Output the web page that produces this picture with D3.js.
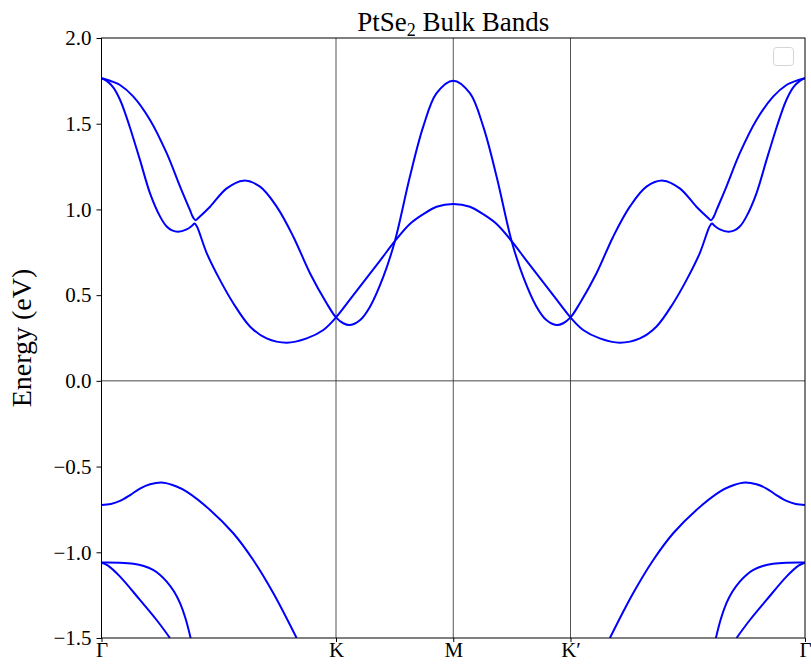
<!DOCTYPE html>
<html>
<head>
<meta charset="utf-8">
<script src="https://cdn.jsdelivr.net/npm/d3@7"></script>
<style>
  body { margin: 0; background: #fff; }
  svg { display: block; }
  text { font-family: "Liberation Serif", "DejaVu Serif", serif; fill: #000; }
</style>
</head>
<body>
<div id="chart"></div>
<script>
// ---- data (k along path G-K-M-K'-G, energy in eV) ----
const kTicks = [0, 1, 1.5, 2, 3];
const kLabels = ["Γ", "K", "M", "K′", "Γ"];
const eTicks = [-1.5, -1.0, -0.5, 0.0, 0.5, 1.0, 1.5, 2.0];

// conduction band 1 (lower branch from Γ, min near K, dome at M)
const c1K = [0, 0.022, 0.050, 0.079, 0.100, 0.122, 0.164, 0.207, 0.250, 0.278, 0.301, 0.327, 0.363, 0.386, 0.397, 0.407, 0.449, 0.505, 0.562, 0.634, 0.704, 0.790, 0.875, 0.946, 1.000, 1.060, 1.116, 1.187, 1.251, 1.315, 1.372, 1.429, 1.500,
  1.571, 1.628, 1.685, 1.749, 1.813, 1.884, 1.940, 2.000, 2.054, 2.125, 2.210, 2.296, 2.366, 2.438, 2.495, 2.551, 2.593, 2.603, 2.614, 2.637, 2.673, 2.699, 2.722, 2.750, 2.793, 2.836, 2.878, 2.900, 2.921, 2.950, 2.978, 3.000];
const c1E = [1.765, 1.750, 1.712, 1.640, 1.565, 1.475, 1.289, 1.094, 0.958, 0.900, 0.878, 0.870, 0.884, 0.905, 0.918, 0.900, 0.744, 0.589, 0.453, 0.316, 0.248, 0.223, 0.248, 0.297, 0.370, 0.475, 0.575, 0.700, 0.815, 0.915, 0.972, 1.016, 1.032,
  1.016, 0.972, 0.915, 0.815, 0.700, 0.575, 0.475, 0.370, 0.297, 0.248, 0.223, 0.248, 0.316, 0.453, 0.589, 0.744, 0.900, 0.918, 0.905, 0.884, 0.870, 0.878, 0.900, 0.958, 1.094, 1.289, 1.475, 1.565, 1.640, 1.712, 1.750, 1.765];

// conduction band 2 (upper branch from Γ, hump, peak at M)
const c2K = [0, 0.050, 0.079, 0.136, 0.207, 0.278, 0.335, 0.377, 0.390, 0.401, 0.414, 0.463, 0.534, 0.605, 0.676, 0.747, 0.818, 0.889, 0.960, 1.000, 1.031, 1.060, 1.103, 1.145, 1.202, 1.251, 1.315, 1.372, 1.429, 1.500,
  1.571, 1.628, 1.685, 1.749, 1.798, 1.855, 1.897, 1.940, 1.969, 2.000, 2.040, 2.111, 2.182, 2.253, 2.324, 2.395, 2.466, 2.537, 2.586, 2.599, 2.610, 2.623, 2.665, 2.722, 2.793, 2.864, 2.921, 2.950, 3.000];
const c2E = [1.765, 1.744, 1.726, 1.658, 1.522, 1.328, 1.133, 0.997, 0.955, 0.937, 0.952, 1.016, 1.123, 1.168, 1.133, 1.016, 0.841, 0.628, 0.453, 0.370, 0.336, 0.326, 0.355, 0.433, 0.608, 0.815, 1.191, 1.483, 1.678, 1.751,
  1.678, 1.483, 1.191, 0.815, 0.608, 0.433, 0.355, 0.326, 0.336, 0.370, 0.453, 0.628, 0.841, 1.016, 1.133, 1.168, 1.123, 1.016, 0.952, 0.937, 0.955, 0.997, 1.133, 1.328, 1.522, 1.658, 1.726, 1.744, 1.765];

// valence bands (null = outside the window)
const v1K = [0, 0.040, 0.079, 0.122, 0.164, 0.207, 0.264, 0.320, 0.363, 0.463, 0.562, 0.647, 0.733, 0.832, 1.5,
  2.168, 2.267, 2.353, 2.438, 2.537, 2.637, 2.680, 2.736, 2.793, 2.836, 2.878, 2.921, 2.960, 3.000];
const v1E = [-0.724, -0.718, -0.700, -0.666, -0.628, -0.603, -0.594, -0.616, -0.646, -0.753, -0.889, -1.045, -1.239, -1.500, null,
  -1.500, -1.239, -1.045, -0.889, -0.753, -0.646, -0.616, -0.594, -0.603, -0.628, -0.666, -0.700, -0.718, -0.724];

const v2K = [0, 0.079, 0.136, 0.180, 0.220, 0.250, 0.278, 0.310, 0.335, 0.358, 0.380, 1.5,
  2.620, 2.642, 2.665, 2.690, 2.722, 2.750, 2.780, 2.820, 2.864, 2.921, 3.000];
const v2E = [-1.060, -1.061, -1.067, -1.080, -1.103, -1.132, -1.171, -1.230, -1.297, -1.385, -1.500, null,
  -1.500, -1.385, -1.297, -1.230, -1.171, -1.132, -1.103, -1.080, -1.067, -1.061, -1.060];

const v3K = [0, 0.028, 0.079, 0.164, 0.235, 0.292, 1.5,
  2.708, 2.765, 2.836, 2.921, 2.972, 3.000];
const v3E = [-1.060, -1.078, -1.142, -1.278, -1.395, -1.500, null,
  -1.500, -1.395, -1.278, -1.142, -1.078, -1.060];

const bands = [[c1K, c1E], [c2K, c2E], [v1K, v1E], [v2K, v2E], [v3K, v3E]];

// ------------------------------------------------------------------------
var width = 811, height = 664;
var pLeft = 101.5, pRight = 805, pTop = 38, pBottom = 638;

var svg = d3.select("#chart").append("svg")
    .attr("width", width)
    .attr("height", height);

var x = d3.scaleLinear().domain([0, 3]).range([pLeft, pRight]);
var y = d3.scaleLinear().domain([-1.5, 2.0]).range([pBottom, pTop]);

svg.append("clipPath").attr("id", "clip")
  .append("rect")
    .attr("x", pLeft).attr("y", pTop)
    .attr("width", pRight - pLeft).attr("height", pBottom - pTop);

// high-symmetry lines
svg.append("g").selectAll("line")
    .data(kTicks.slice(1, -1))
    .enter().append("line")
    .attr("x1", d => x(d)).attr("x2", d => x(d))
    .attr("y1", pTop).attr("y2", pBottom)
    .attr("stroke", "#555").attr("stroke-width", 1);

// Fermi level
svg.append("line")
    .attr("x1", pLeft).attr("x2", pRight)
    .attr("y1", y(0)).attr("y2", y(0))
    .attr("stroke", "#333").attr("stroke-width", 0.9);

var line = d3.line()
    .defined(d => d[1] !== null)
    .x(d => x(d[0]))
    .y(d => y(d[1]))
    .curve(d3.curveCatmullRom.alpha(0.5));

svg.append("g").attr("clip-path", "url(#clip)")
  .selectAll("path")
    .data(bands.map(b => b[0].map((k, i) => [k, b[1][i]])))
    .enter().append("path")
    .attr("d", line)
    .attr("fill", "none")
    .attr("stroke", "#0000ff")
    .attr("stroke-width", 2);

// axes
var yAxis = d3.axisLeft(y)
    .tickValues(eTicks)
    .tickSize(5)
    .tickPadding(5)
    .tickFormat(d => d3.format(".1f")(d).replace("-", "−"));
var gy = svg.append("g").attr("transform", "translate(" + pLeft + ",0)").call(yAxis);
gy.select(".domain").remove();
gy.selectAll("text").attr("font-size", 21).attr("font-family", "Liberation Serif");

var xAxis = d3.axisBottom(x)
    .tickValues(kTicks)
    .tickSize(4)
    .tickPadding(4)
    .tickFormat((d, i) => kLabels[i]);
var gx = svg.append("g").attr("transform", "translate(0," + pBottom + ")").call(xAxis);
gx.select(".domain").remove();
gx.selectAll("text").attr("font-size", 21).attr("font-family", "Liberation Serif")
    .attr("dy", null).attr("y", 19);

// frame
svg.append("rect")
    .attr("x", pLeft).attr("y", pTop)
    .attr("width", pRight - pLeft).attr("height", pBottom - pTop)
    .attr("fill", "none").attr("stroke", "#000").attr("stroke-width", 1);

// empty legend
svg.append("rect")
    .attr("x", 773.5).attr("y", 47.5)
    .attr("width", 20).attr("height", 18)
    .attr("rx", 3)
    .attr("fill", "#fff").attr("fill-opacity", 0.8)
    .attr("stroke", "#d5d5d5");

// title
var title = svg.append("text")
    .attr("x", (pLeft + pRight) / 2).attr("y", 31)
    .attr("text-anchor", "middle")
    .attr("font-size", 27);
title.append("tspan").text("PtSe");
title.append("tspan").attr("font-size", 18).attr("dy", 5).text("2");
title.append("tspan").attr("dy", -5).text(" Bulk Bands");

// y label
svg.append("text")
    .attr("transform", "translate(31," + (pTop + pBottom) / 2 + ") rotate(-90)")
    .attr("text-anchor", "middle")
    .attr("font-size", 28)
    .text("Energy (eV)");
</script>
</body>
</html>
